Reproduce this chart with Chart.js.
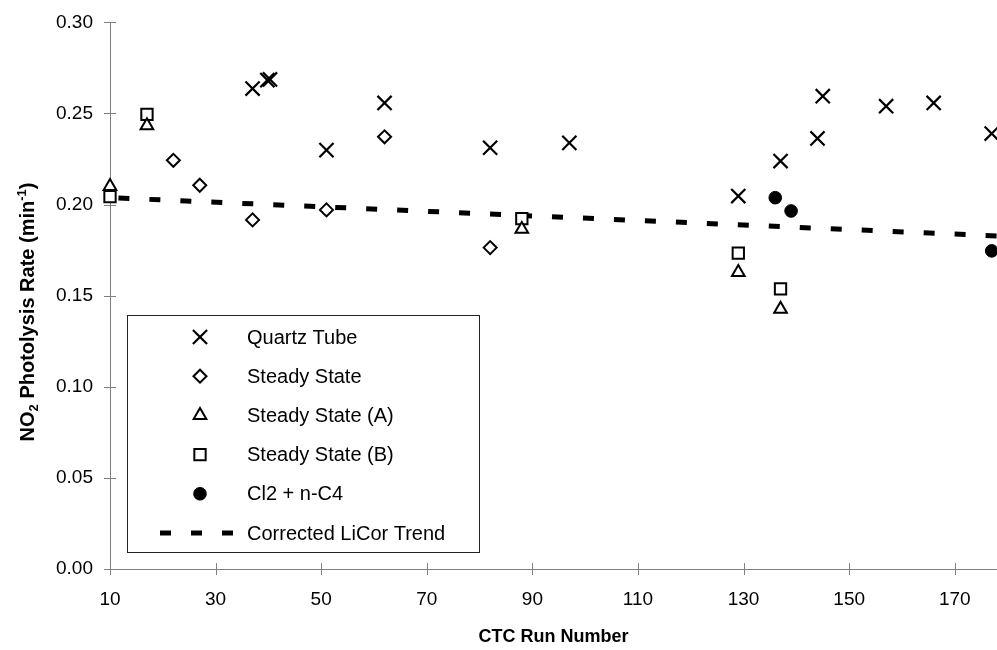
<!DOCTYPE html>
<html>
<head>
<meta charset="utf-8">
<script src="https://cdn.jsdelivr.net/npm/chart.js@4/dist/chart.umd.min.js"></script>
<style>
  html, body { margin: 0; padding: 0; background: #fff; }
  #wrap { width: 997px; height: 650px; }
</style>
</head>
<body>
<div id="wrap"><canvas id="photolysis"></canvas></div>
<script>
// axis ticks
const xTicks = [10, 30, 50, 70, 90, 110, 130, 150, 170];
const yTicks = [0, 0.05, 0.10, 0.15, 0.20, 0.25, 0.30];

// NO2 photolysis rate by CTC run
const quartzRuns  = [37, 39.8, 40.3, 51, 62, 82, 97, 129, 137, 144, 145, 157, 166, 177];
const quartzRates = [0.2637, 0.2683, 0.2687, 0.2299, 0.2558, 0.2312, 0.2339, 0.2047, 0.2239, 0.2363, 0.2595, 0.2540, 0.2558, 0.2390];

const steadyRuns  = [22, 27, 37, 51, 62, 82];
const steadyRates = [0.2243, 0.2106, 0.1916, 0.1971, 0.2372, 0.1764];

const steadyARuns  = [10, 17, 88, 129, 137];
const steadyARates = [0.2100, 0.2434, 0.1865, 0.1628, 0.1427];

const steadyBRuns  = [10, 17, 88, 129, 137];
const steadyBRates = [0.2044, 0.2495, 0.1923, 0.1734, 0.1537];

const cl2Runs  = [136, 139, 177];
const cl2Rates = [0.2038, 0.1965, 0.1746];

const trendRuns  = [10, 178];
const trendRates = [0.2038, 0.1828];

const FONT = "'Liberation Sans', Arial, Helvetica, sans-serif";
const axisGray = '#808080';

const toPoints = (xs, ys) => xs.map((x, i) => ({ x: x, y: ys[i] }));

// Excel style tick marks that cross the axis line
const crossTicks = {
  id: 'crossTicks',
  beforeDatasetsDraw(chart) {
    const { ctx, chartArea, scales } = chart;
    ctx.save();
    ctx.strokeStyle = axisGray;
    ctx.lineWidth = 1;
    ctx.beginPath();
    scales.x.ticks.forEach(t => {
      const px = Math.round(scales.x.getPixelForValue(t.value)) + 0.5;
      ctx.moveTo(px, chartArea.bottom + 6);
      ctx.lineTo(px, chartArea.bottom - 6);
    });
    scales.y.ticks.forEach(t => {
      const py = Math.round(scales.y.getPixelForValue(t.value)) + 0.5;
      ctx.moveTo(chartArea.left - 6, py);
      ctx.lineTo(chartArea.left + 6, py);
    });
    ctx.stroke();
    ctx.restore();
  }
};

// y title with sub/superscripts
const yTitle = {
  id: 'yTitle',
  afterDraw(chart) {
    const { ctx } = chart;
    const big = 'bold 20px ' + FONT;
    const small = 'bold 13px ' + FONT;
    const parts = [
      { t: 'NO', f: big, dy: 0 },
      { t: '2', f: small, dy: 4 },
      { t: ' Photolysis Rate (min', f: big, dy: 0 },
      { t: '-1', f: small, dy: -8 },
      { t: ')', f: big, dy: 0 }
    ];
    ctx.save();
    let total = 0;
    parts.forEach(p => { ctx.font = p.f; p.w = ctx.measureText(p.t).width; total += p.w; });
    ctx.translate(27, 312);
    ctx.rotate(-Math.PI / 2);
    ctx.fillStyle = '#000';
    ctx.textBaseline = 'alphabetic';
    let x = -total / 2;
    parts.forEach(p => {
      ctx.font = p.f;
      ctx.fillText(p.t, x, 7 + p.dy);
      x += p.w;
    });
    ctx.restore();
  }
};

// legend box inside the plot
const boxLegend = {
  id: 'boxLegend',
  afterDraw(chart) {
    const { ctx } = chart;
    const left = 127, top = 315, right = 479, bottom = 552;
    const rowH = 39.2;
    ctx.save();
    ctx.fillStyle = '#fff';
    ctx.fillRect(left, top, right - left, bottom - top);
    ctx.strokeStyle = '#222';
    ctx.lineWidth = 1;
    ctx.strokeRect(left + 0.5, top + 0.5, right - left, bottom - top);
    ctx.font = '20px ' + FONT;
    ctx.textBaseline = 'middle';
    chart.data.datasets.forEach((ds, i) => {
      const cy = 337 + i * rowH;
      if (ds.showLine) {
        ctx.strokeStyle = ds.borderColor;
        ctx.lineWidth = ds.borderWidth;
        ctx.setLineDash([]);
        ctx.beginPath();
        [160, 191, 222].forEach(sx => { ctx.moveTo(sx, cy); ctx.lineTo(sx + 11, cy); });
        ctx.stroke();
      } else {
        ctx.strokeStyle = ds.pointBorderColor;
        ctx.fillStyle = ds.pointBackgroundColor;
        ctx.lineWidth = ds.pointBorderWidth;
        Chart.helpers.drawPoint(ctx, {
          pointStyle: ds.pointStyle, radius: ds.pointRadius, rotation: 0, borderWidth: ds.pointBorderWidth
        }, 200, cy);
      }
      ctx.fillStyle = '#000';
      ctx.fillText(ds.label, 247, cy + 1);
    });
    ctx.restore();
  }
};

const marker = (label, xs, ys, style, radius, fill, width) => ({
  label: label,
  data: toPoints(xs, ys),
  pointStyle: style,
  pointRadius: radius,
  pointHoverRadius: radius,
  pointBackgroundColor: fill,
  pointBorderColor: '#000',
  pointBorderWidth: width,
  showLine: false,
  clip: false
});

new Chart(document.getElementById('photolysis'), {
  type: 'scatter',
  data: {
    datasets: [
      marker('Quartz Tube', quartzRuns, quartzRates, 'crossRot', 10, '#000', 2.2),
      marker('Steady State', steadyRuns, steadyRates, 'rectRot', 6.5, '#fff', 2),
      marker('Steady State (A)', steadyARuns, steadyARates, 'triangle', 7.3, '#fff', 2),
      marker('Steady State (B)', steadyBRuns, steadyBRates, 'rect', 8, '#fff', 2),
      marker('Cl2 + n-C4', cl2Runs, cl2Rates, 'circle', 6.3, '#000', 1),
      {
        label: 'Corrected LiCor Trend',
        data: toPoints(trendRuns, trendRates),
        showLine: true,
        borderColor: '#000',
        borderWidth: 5,
        borderDash: [11, 20],
        borderDashOffset: 22.6,
        borderCapStyle: 'butt',
        pointRadius: 0,
        pointHoverRadius: 0,
        fill: false
      }
    ]
  },
  options: {
    responsive: true,
    maintainAspectRatio: false,
    animation: false,
    events: [],
    layout: { autoPadding: false, padding: { top: 21, right: 0, bottom: 0, left: 0 } },
    plugins: {
      legend: { display: false },
      tooltip: { enabled: false },
      title: { display: false }
    },
    scales: {
      x: {
        type: 'linear',
        min: 10,
        max: 178,
        afterBuildTicks: s => { s.ticks = xTicks.map(v => ({ value: v })); },
        afterFit: s => { s.height = 81; s.paddingRight = 0; s.paddingLeft = 0; },
        border: { display: true, color: axisGray, width: 1 },
        grid: { drawOnChartArea: false, drawTicks: true, tickLength: 6, tickColor: 'rgba(0,0,0,0)' },
        ticks: { color: '#000', font: { family: FONT, size: 19 }, padding: 13, maxRotation: 0 },
        title: {
          display: true,
          text: 'CTC Run Number',
          color: '#000',
          font: { family: FONT, size: 18, weight: 'bold' },
          padding: { top: 0, bottom: 2 }
        }
      },
      y: {
        type: 'linear',
        min: 0,
        max: 0.30,
        afterBuildTicks: s => { s.ticks = yTicks.map(v => ({ value: v })); },
        afterFit: s => { s.width = 110; },
        border: { display: true, color: axisGray, width: 1 },
        grid: { drawOnChartArea: false, drawTicks: true, tickLength: 6, tickColor: 'rgba(0,0,0,0)' },
        ticks: {
          color: '#000',
          font: { family: FONT, size: 19 },
          padding: 11,
          callback: v => v.toFixed(2)
        }
      }
    }
  },
  plugins: [crossTicks, yTitle, boxLegend]
});
</script>
</body>
</html>
